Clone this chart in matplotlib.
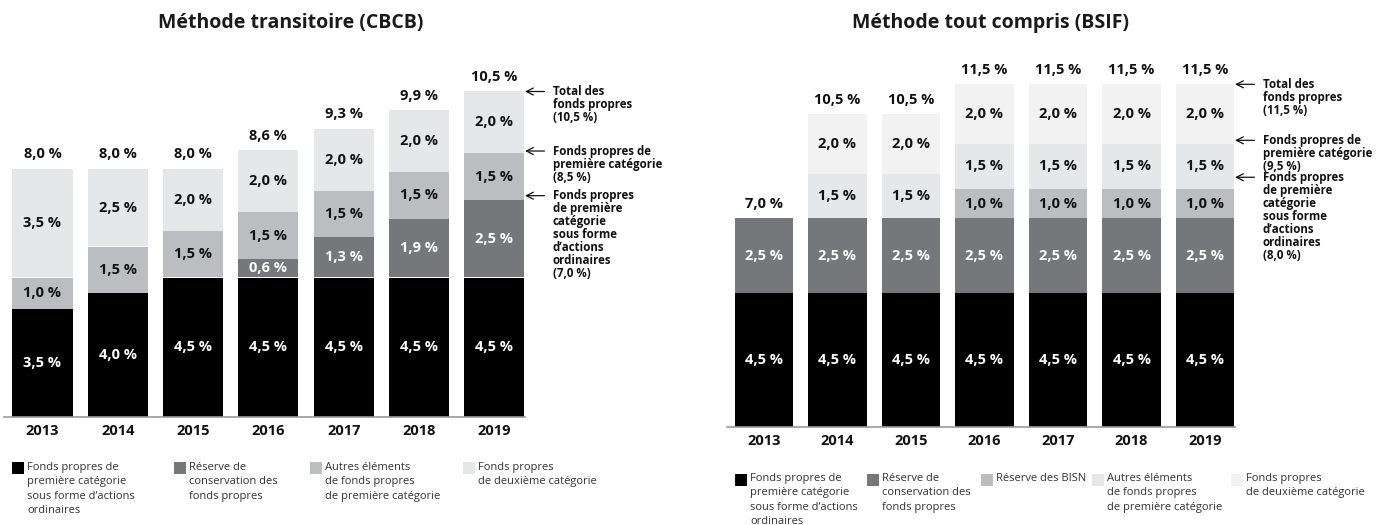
import matplotlib.pyplot as plt
from matplotlib.patches import Rectangle

plt.rcParams['font.family'] = ['Open Sans', 'DejaVu Sans']

W, H = 1387, 525

years = ['2013', '2014', '2015', '2016', '2017', '2018', '2019']

# Méthode transitoire (CBCB)
cbcb_cet1 = [3.5, 4.0, 4.5, 4.5, 4.5, 4.5, 4.5]
cbcb_conservation = [0.0, 0.0, 0.0, 0.6, 1.3, 1.9, 2.5]
cbcb_autres_t1 = [1.0, 1.5, 1.5, 1.5, 1.5, 1.5, 1.5]
cbcb_tier2 = [3.5, 2.5, 2.0, 2.0, 2.0, 2.0, 2.0]

# Méthode tout compris (BSIF)
bsif_cet1 = [4.5, 4.5, 4.5, 4.5, 4.5, 4.5, 4.5]
bsif_conservation = [2.5, 2.5, 2.5, 2.5, 2.5, 2.5, 2.5]
bsif_bisn = [0.0, 0.0, 0.0, 1.0, 1.0, 1.0, 1.0]
bsif_autres_t1 = [0.0, 1.5, 1.5, 1.5, 1.5, 1.5, 1.5]
bsif_tier2 = [0.0, 2.0, 2.0, 2.0, 2.0, 2.0, 2.0]

cbcb_notes = ['Total des\nfonds propres\n(10,5 %)',
              'Fonds propres de\npremière catégorie\n(8,5 %)',
              'Fonds propres\nde première\ncatégorie\nsous forme\nd’actions\nordinaires\n(7,0 %)']
cbcb_note_levels = [10.5, 8.5, 7.0]
bsif_notes = ['Total des\nfonds propres\n(11,5 %)',
              'Fonds propres de\npremière catégorie\n(9,5 %)',
              'Fonds propres\nde première\ncatégorie\nsous forme\nd’actions\nordinaires\n(8,0 %)']
bsif_note_levels = [11.5, 9.5, 8.0]

cbcb_legend = ['Fonds propres de\npremière catégorie\nsous forme d’actions\nordinaires',
               'Réserve de\nconservation des\nfonds propres',
               'Autres éléments\nde fonds propres\nde première catégorie',
               'Fonds propres\nde deuxième catégorie']
bsif_legend = ['Fonds propres de\npremière catégorie\nsous forme d’actions\nordinaires',
               'Réserve de\nconservation des\nfonds propres',
               'Réserve des BISN',
               'Autres éléments\nde fonds propres\nde première catégorie',
               'Fonds propres\nde deuxième catégorie']

BLACK = '#000000'
DARK = '#76777a'
MID = '#bcbdc0'
LIGHT = '#e6e7e8'
LIGHTER = '#f2f2f3'


def fmt(v):
    return f'{v:.1f}'.replace('.', ',') + ' %'


def px_rect(x0, x1, y_top, y_bottom):
    return [x0 / W, 1 - y_bottom / H, (x1 - x0) / W, (y_bottom - y_top) / H]


def draw_stack(ax, series, colors, width):
    x = range(len(years))
    bottom = [0.0] * len(years)
    for k, (vals, col) in enumerate(zip(series, colors)):
        ax.bar(x, vals, width, bottom=bottom, color=col, linewidth=0)
        txt_col = 'white' if k < 2 else '#111111'
        for i, v in enumerate(vals):
            if v > 0:
                ax.text(i, bottom[i] + v / 2, fmt(v), ha='center', va='center',
                        fontsize=10.5, fontweight='bold', color=txt_col)
        bottom = [b + v for b, v in zip(bottom, vals)]
    for i, t in enumerate(bottom):
        ax.annotate(fmt(t), xy=(i, t), xytext=(0, 10.5), textcoords='offset points',
                    ha='center', va='center', fontsize=10.5, fontweight='bold', color='#111111')
    return bottom


def style_axes(ax, xlim, ylim):
    ax.set_xlim(*xlim)
    ax.set_ylim(*ylim)
    for s in ['top', 'right', 'left']:
        ax.spines[s].set_visible(False)
    ax.spines['bottom'].set_color('#9a9a9a')
    ax.spines['bottom'].set_linewidth(1.2)
    ax.set_yticks([])
    ax.set_xticks(range(len(years)))
    ax.set_xticklabels(years, fontsize=10.5, fontweight='bold', color='#111111')
    ax.tick_params(axis='x', length=0, pad=5)


def add_notes(ax, notes, levels, lifts, x_edge):
    # lifts: small upward shift (data units) so the text blocks do not collide
    for note, lev, lift in zip(notes, levels, lifts):
        y = lev + lift
        ax.annotate('', xy=(x_edge, y), xytext=(14, 0), textcoords='offset points',
                    arrowprops=dict(arrowstyle='->, head_length=0.5, head_width=0.25',
                                    color='#111111', lw=0.9, shrinkA=0, shrinkB=0),
                    annotation_clip=False)
        ax.annotate(note, xy=(x_edge, y), xytext=(20, 4.5), textcoords='offset points',
                    ha='left', va='top', fontsize=8.3, fontweight='bold', color='#111111',
                    linespacing=1.0, annotation_clip=False)


def add_legend(fig, labels, colors, xs, y_top, text_top):
    for lab, col, x in zip(labels, colors, xs):
        fig.add_artist(Rectangle((x / W, 1 - (y_top + 12) / H), 12 / W, 12 / H,
                                 transform=fig.transFigure, color=col, linewidth=0))
        fig.text((x + 15) / W, 1 - text_top / H, lab, ha='left', va='top',
                 fontsize=8, color='#333333', linespacing=1.42)


fig = plt.figure(figsize=(W / 100, H / 100), dpi=100)

# left panel
ax1 = fig.add_axes(px_rect(4, 525, 50, 417))
draw_stack(ax1, [cbcb_cet1, cbcb_conservation, cbcb_autres_t1, cbcb_tier2],
           [BLACK, DARK, MID, LIGHT], 0.80)
style_axes(ax1, (-0.511, 6.408), (0, 367 / 31.0))
add_notes(ax1, cbcb_notes, cbcb_note_levels, [0, 0.08, 0.14], 6.408)

# right panel
ax2 = fig.add_axes(px_rect(727, 1235, 50, 427))
draw_stack(ax2, [bsif_cet1, bsif_conservation, bsif_bisn, bsif_autres_t1, bsif_tier2],
           [BLACK, DARK, MID, LIGHT, LIGHTER], 0.80)
style_axes(ax2, (-0.503, 6.408), (0, 377 / 29.8))
add_notes(ax2, bsif_notes, bsif_note_levels, [0, 0.12, 0.38], 6.408)

fig.text(291 / W, 1 - 23 / H, 'Méthode transitoire (CBCB)', ha='center', va='center',
         fontsize=14, fontweight='bold', color='#1a1a1a')
fig.text(991 / W, 1 - 23 / H, 'Méthode tout compris (BSIF)', ha='center', va='center',
         fontsize=14, fontweight='bold', color='#1a1a1a')

add_legend(fig, cbcb_legend, [BLACK, DARK, MID, LIGHT], [12, 174, 310, 463], 462, 462)
add_legend(fig, bsif_legend, [BLACK, DARK, MID, LIGHT, LIGHTER],
           [735, 867, 981, 1092, 1231], 474, 473)

fig.savefig('out.png', dpi=100)
